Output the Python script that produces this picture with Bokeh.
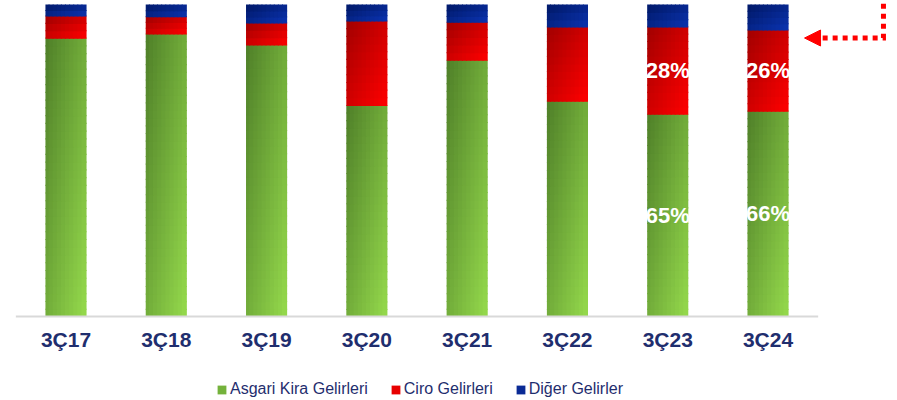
import numpy as np
from bokeh.plotting import figure
from bokeh.models import (ColumnDataSource, FixedTicker, Range1d, Legend, LegendItem,
                          Arrow, NormalHead)
from bokeh.core.properties import value
from bokeh.embed import file_html
from bokeh.resources import INLINE

# ---------------- data ----------------
categories = ["3Ç17", "3Ç18", "3Ç19", "3Ç20", "3Ç21", "3Ç22", "3Ç23", "3Ç24"]
series_names = ["Asgari Kira Gelirleri", "Ciro Gelirleri", "Diğer Gelirler"]
asgari_kira = [89.4, 90.7, 87.2, 67.8, 82.3, 69.2, 65.0, 66.0]
ciro = [7.1, 5.6, 7.1, 27.1, 12.2, 23.8, 28.0, 26.0]
diger = [3.5, 3.7, 5.7, 5.1, 5.5, 7.0, 7.0, 8.0]

label_categories = ["3Ç23", "3Ç24"]
label_asgari = ["65%", "66%"]
label_ciro = ["28%", "26%"]

# ---------------- style ----------------
NAVY = "#1F2E6E"
FONT = "Liberation Sans"
GRADIENTS = [("#4e7e28", "#95da4c"),   # green
             ("#a00000", "#ff0000"),   # red
             ("#001866", "#0b33b0")]   # blue
LEGEND_COLORS = ["#74b23b", "#e80000", "#0a2a95"]
BAR_W = 0.41
NX = 10

n = len(categories)
idx = np.arange(n, dtype=float)
vals = [np.array(asgari_kira), np.array(ciro), np.array(diger)]
bottoms = [np.zeros(n), vals[0].copy(), vals[0] + vals[1]]


def hex2rgb(h):
    h = h.lstrip("#")
    return np.array([int(h[i:i + 2], 16) for i in (0, 2, 4)], dtype=float)


def lerp(c0, c1, t):
    a, b = hex2rgb(c0), hex2rgb(c1)
    c = np.clip(np.round(a + (b - a) * t), 0, 255).astype(int)
    return "#%02x%02x%02x" % tuple(c)


p = figure(width=897, height=400, output_backend="svg", toolbar_location=None,
           x_range=Range1d(-0.6531, 8.291), y_range=Range1d(-26.923, 101.282),
           y_axis_location=None, min_border_left=0, min_border_right=0,
           min_border_top=0, min_border_bottom=0)
p.outline_line_color = None
p.xgrid.visible = False
p.ygrid.visible = False
p.background_fill_color = "white"
p.border_fill_color = "white"

# gradient-filled stacked bars, built from small strips of each segment
OX = 0.01    # overlaps (data units) hiding anti-aliasing seams
OY = 0.35
for s in range(3):
    c0, c1 = GRADIENTS[s]
    L, R, B, T, C = [], [], [], [], []
    for k in range(n):
        ny = max(2, int(np.ceil(vals[s][k] / 2.5)))
        for j in range(ny):
            v = 1 - (j + 0.5) / ny
            bot = bottoms[s][k] + vals[s][k] * j / ny - (OY if (s > 0 or j > 0) else 0)
            top = bottoms[s][k] + vals[s][k] * (j + 1) / ny
            for i in range(NX):
                u = (i + 0.5) / NX
                L.append(idx[k] - BAR_W / 2 + i * BAR_W / NX - (OX if i > 0 else 0))
                R.append(idx[k] - BAR_W / 2 + (i + 1) * BAR_W / NX)
                B.append(bot)
                T.append(top)
                C.append(lerp(c0, c1, (u + v) / 2))
    src = ColumnDataSource(dict(left=L, right=R, bottom=B, top=T, color=C))
    p.quad(left="left", right="right", bottom="bottom", top="top",
           fill_color="color", line_color=None, source=src)

# baseline
p.segment(x0=[-0.5], x1=[n - 0.5], y0=[0], y1=[0], line_color="#d9d9d9", line_width=2)

# value labels
lx = [categories.index(c) for c in label_categories]
gy = [asgari_kira[i] / 2 for i in lx]
ry = [asgari_kira[i] + ciro[i] / 2 for i in lx]
p.text(x=lx + lx, y=gy + ry, text=label_asgari + label_ciro, text_color="white",
       text_font=value(FONT), text_font_style="bold", text_font_size="22px",
       text_align="center", text_baseline="middle")

# x axis, fixed at the zero line
ax = p.xaxis[0]
ax.fixed_location = 0
ax.ticker = FixedTicker(ticks=list(range(n)))
ax.major_label_overrides = {i: c for i, c in enumerate(categories)}
ax.axis_line_color = None
ax.major_tick_line_color = None
ax.minor_tick_line_color = None
ax.major_tick_out = 0
ax.major_tick_in = 0
ax.major_label_standoff = 11
ax.major_label_text_font = FONT
ax.major_label_text_font_style = "bold"
ax.major_label_text_font_size = "21px"
ax.major_label_text_color = NAVY

# legend (swatch renderers hold no visible data)
nan = [float("nan")]
dummies = [p.quad(left=nan, right=nan, bottom=nan, top=nan, fill_color=c, line_color=None)
           for c in LEGEND_COLORS]
legend = Legend(items=[LegendItem(label=nm, renderers=[r]) for nm, r in zip(series_names, dummies)],
                orientation="horizontal", location=(216, 2), padding=2, margin=0,
                spacing=22, label_standoff=3, glyph_width=11, glyph_height=11,
                label_height=18, label_text_font=FONT, label_text_font_size="16px",
                label_text_color=NAVY, background_fill_alpha=0, border_line_color=None)
p.add_layout(legend, "center")

# pointer arrow (annotation)
AY = 89.26
p.line(x=[8.151, 8.151, 7.52], y=[101.5, AY, AY], line_color="#ff0000", line_width=5,
       line_dash="5 5", line_dash_offset=6, line_join="miter")
p.add_layout(Arrow(end=NormalHead(size=16, fill_color="#ff0000", line_color="#ff0000"),
                   x_start=7.53, y_start=AY, x_end=7.364, y_end=AY, line_alpha=0))

open("out.html", "w").write(file_html(p, INLINE))
